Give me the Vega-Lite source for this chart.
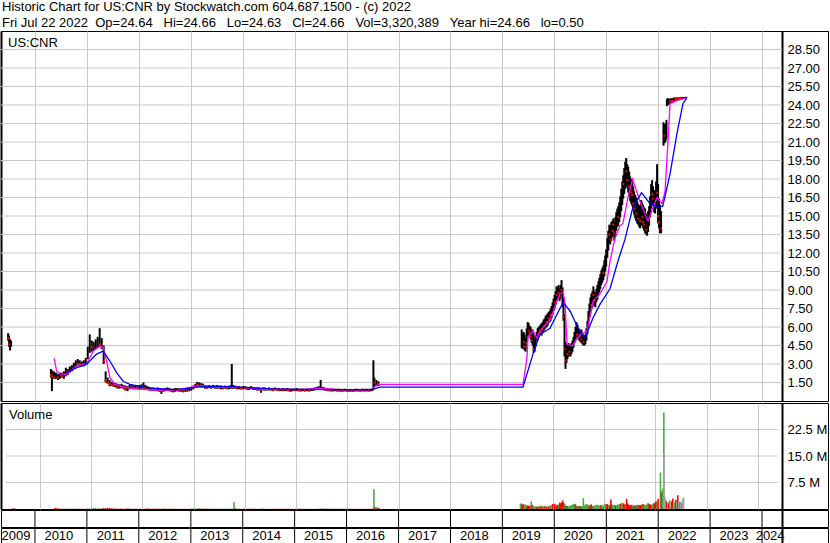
{
  "$schema": "https://vega.github.io/schema/vega-lite/v6.json",
  "padding": 0,
  "background": "white",
  "config": {
    "font": "Liberation Sans",
    "view": {"stroke": "black", "strokeWidth": 1},
    "axis": {"labelFont": "Liberation Sans", "labelFontSize": 13, "labelColor": "black", "title": null, "labelOverlap": false},
    "title": {"font": "Liberation Sans", "fontSize": 13, "fontWeight": "normal", "color": "black", "anchor": "start"},
    "text": {"font": "Liberation Sans"}
  },
  "title": {
    "text": ["Historic Chart for US:CNR by Stockwatch.com 604.687.1500 - (c) 2022", "Fri Jul 22 2022 \u00a0Op=24.64 \u00a0\u00a0Hi=24.66 \u00a0\u00a0Lo=24.63 \u00a0\u00a0Cl=24.66 \u00a0\u00a0Vol=3,320,389 \u00a0\u00a0Year hi=24.66 \u00a0\u00a0lo=0.50"],
    "lineHeight": 16, "offset": 1, "dx": 1, "frame": "group"
  },
  "datasets": {
    "pg": [{"v":1.5},{"v":3},{"v":4.5},{"v":6},{"v":7.5},{"v":9},{"v":10.5},{"v":12},{"v":13.5},{"v":15},{"v":16.5},{"v":18},{"v":19.5},{"v":21},{"v":22.5},{"v":24},{"v":25.5},{"v":27},{"v":28.5}],
    "vg": [{"v":7.5},{"v":15},{"v":22.5}],
    "yrs": [
      {"y":"2009","s":"2009-01-01","m":"2009-09-03"},{"y":"2010","s":"2010-01-01","m":"2010-07-02"},{"y":"2011","s":"2011-01-01","m":"2011-07-02"},{"y":"2012","s":"2012-01-01","m":"2012-07-02"},
      {"y":"2013","s":"2013-01-01","m":"2013-07-02"},{"y":"2014","s":"2014-01-01","m":"2014-07-02"},{"y":"2015","s":"2015-01-01","m":"2015-07-02"},{"y":"2016","s":"2016-01-01","m":"2016-07-02"},
      {"y":"2017","s":"2017-01-01","m":"2017-07-02"},{"y":"2018","s":"2018-01-01","m":"2018-07-02"},{"y":"2019","s":"2019-01-01","m":"2019-07-02"},{"y":"2020","s":"2020-01-01","m":"2020-07-02"},
      {"y":"2021","s":"2021-01-01","m":"2021-07-02"},{"y":"2022","s":"2022-01-01","m":"2022-07-02"},{"y":"2023","s":"2023-01-01","m":"2023-07-02"},{"y":"2024","s":"2024-01-01","m":"2024-03-12"}
    ],
    "ma": [
      {"d":"2010-05-16","k":"m","p":3.46},{"d":"2010-06-02","k":"m","p":2.43},{"d":"2010-06-25","k":"m","p":2.2},{"d":"2010-08-11","k":"m","p":2.16},{"d":"2010-10-21","k":"m","p":2.84},{"d":"2010-12-30","k":"m","p":2.98},
      {"d":"2011-02-15","k":"m","p":4.05},{"d":"2011-04-03","k":"m","p":4.46},{"d":"2011-04-26","k":"m","p":4.32},{"d":"2011-05-20","k":"m","p":3.24},{"d":"2011-06-12","k":"m","p":1.89},{"d":"2011-07-17","k":"m","p":1.35},
      {"d":"2011-10-07","k":"m","p":1.08},{"d":"2012-01-09","k":"m","p":0.95},{"d":"2012-05-29","k":"m","p":0.88},{"d":"2012-10-17","k":"m","p":0.9},{"d":"2013-01-30","k":"m","p":1.2},{"d":"2013-04-11","k":"m","p":1.25},
      {"d":"2013-06-20","k":"m","p":1.12},{"d":"2013-11-07","k":"m","p":1.12},{"d":"2014-02-21","k":"m","p":1.05},{"d":"2014-05-16","k":"m","p":0.95},{"d":"2014-09-20","k":"m","p":0.95},{"d":"2015-02-07","k":"m","p":0.92},
      {"d":"2015-06-27","k":"m","p":1.05},{"d":"2015-11-15","k":"m","p":0.92},{"d":"2016-04-05","k":"m","p":0.9},{"d":"2016-06-28","k":"m","p":0.95},{"d":"2016-08-09","k":"m","p":1.35},{"d":"2016-08-23","k":"m","p":1.35},
      {"d":"2019-05-26","k":"m","p":1.35},{"d":"2019-06-23","k":"m","p":3.5},{"d":"2019-06-30","k":"m","p":5.1},{"d":"2019-08-04","k":"m","p":5.7},{"d":"2019-09-01","k":"m","p":5.1},{"d":"2019-09-22","k":"m","p":5.7},
      {"d":"2019-12-02","k":"m","p":6.6},{"d":"2020-02-10","k":"m","p":8.7},{"d":"2020-03-03","k":"m","p":8.8},{"d":"2020-03-17","k":"m","p":7.85},{"d":"2020-03-31","k":"m","p":4.6},{"d":"2020-05-05","k":"m","p":4.46},
      {"d":"2020-07-01","k":"m","p":5.4},{"d":"2020-08-19","k":"m","p":5.7},{"d":"2020-09-30","k":"m","p":8.1},{"d":"2020-11-18","k":"m","p":8.7},{"d":"2021-01-06","k":"m","p":9.7},{"d":"2021-01-27","k":"m","p":11.35},
      {"d":"2021-03-03","k":"m","p":13.2},{"d":"2021-04-07","k":"m","p":14.2},{"d":"2021-04-28","k":"m","p":14.4},{"d":"2021-06-02","k":"m","p":16.5},{"d":"2021-07-05","k":"m","p":18.0},{"d":"2021-08-25","k":"m","p":16.2},
      {"d":"2021-10-21","k":"m","p":14.6},{"d":"2021-12-23","k":"m","p":16.5},{"d":"2022-01-27","k":"m","p":16.0},{"d":"2022-02-18","k":"m","p":17.0},{"d":"2022-03-11","k":"m","p":21.1},{"d":"2022-03-25","k":"m","p":24.1},
      {"d":"2022-05-20","k":"m","p":24.4},{"d":"2022-07-22","k":"m","p":24.6},
      {"d":"2010-08-11","k":"b","p":2.3},{"d":"2010-10-21","k":"b","p":2.7},{"d":"2010-12-30","k":"b","p":2.97},{"d":"2011-03-10","k":"b","p":3.8},{"d":"2011-04-26","k":"b","p":4.05},{"d":"2011-06-12","k":"b","p":3.24},
      {"d":"2011-07-29","k":"b","p":2.3},{"d":"2011-09-13","k":"b","p":1.6},{"d":"2011-10-30","k":"b","p":1.35},{"d":"2012-03-19","k":"b","p":1.05},{"d":"2012-09-11","k":"b","p":0.92},{"d":"2013-03-06","k":"b","p":1.15},
      {"d":"2013-07-25","k":"b","p":1.18},{"d":"2014-01-16","k":"b","p":1.1},{"d":"2014-07-11","k":"b","p":0.98},{"d":"2015-02-07","k":"b","p":0.95},{"d":"2015-11-15","k":"b","p":0.93},{"d":"2016-06-28","k":"b","p":0.93},
      {"d":"2016-08-23","k":"b","p":1.13},{"d":"2019-05-26","k":"b","p":1.13},{"d":"2019-08-04","k":"b","p":3.8},{"d":"2019-09-22","k":"b","p":5.4},{"d":"2019-12-02","k":"b","p":5.9},{"d":"2020-02-10","k":"b","p":7.5},
      {"d":"2020-03-03","k":"b","p":8.0},{"d":"2020-04-21","k":"b","p":7.3},{"d":"2020-06-09","k":"b","p":6.1},{"d":"2020-07-14","k":"b","p":5.4},{"d":"2020-08-04","k":"b","p":5.1},{"d":"2020-09-30","k":"b","p":6.75},
      {"d":"2020-11-18","k":"b","p":7.85},{"d":"2021-01-27","k":"b","p":9.1},{"d":"2021-03-24","k":"b","p":11.35},{"d":"2021-05-12","k":"b","p":13.1},{"d":"2021-07-07","k":"b","p":15.7},{"d":"2021-09-06","k":"b","p":16.9},
      {"d":"2021-11-04","k":"b","p":16.0},{"d":"2021-12-23","k":"b","p":15.7},{"d":"2022-02-02","k":"b","p":15.8},{"d":"2022-03-25","k":"b","p":18.4},{"d":"2022-05-13","k":"b","p":21.7},{"d":"2022-06-24","k":"b","p":24.1},
      {"d":"2022-07-22","k":"b","p":24.6}
    ],
    "px": [
      {"d":"2009-06-26","h":5.5,"l":4.9,"c":5.1,"v":0.2,"s":"d"},{"d":"2009-07-03","h":5.3,"l":4.4,"c":4.6,"v":0.15,"s":"d"},{"d":"2009-07-10","h":5.0,"l":4.1,"c":4.5,"v":0.1,"s":"u"},{"d":"2009-07-17","h":4.9,"l":4.4,"c":4.7,"v":0.1,"s":"u"},
      {"d":"2010-04-23","h":2.6,"l":1.9,"c":2.1,"v":0.3,"s":"d"},{"d":"2010-04-30","h":2.5,"l":0.8,"c":2.0,"v":0.25,"s":"d"},{"d":"2010-05-14","h":2.4,"l":1.8,"c":1.9,"v":0.15,"s":"d"},{"d":"2010-05-28","h":2.3,"l":1.8,"c":2.0,"v":0.1,"s":"u"},
      {"d":"2010-06-11","h":2.2,"l":1.7,"c":1.9,"v":0.1,"s":"d"},{"d":"2010-06-25","h":2.3,"l":1.8,"c":2.1,"v":0.12,"s":"u"},{"d":"2010-07-09","h":2.3,"l":1.9,"c":2.0,"v":0.1,"s":"d"},{"d":"2010-07-23","h":2.4,"l":1.8,"c":2.2,"v":0.1,"s":"u"},
      {"d":"2010-08-06","h":2.7,"l":2.0,"c":2.5,"v":0.15,"s":"u"},{"d":"2010-08-20","h":2.6,"l":2.1,"c":2.4,"v":0.1,"s":"d"},{"d":"2010-09-03","h":2.8,"l":2.3,"c":2.6,"v":0.12,"s":"u"},{"d":"2010-09-17","h":2.9,"l":2.4,"c":2.7,"v":0.1,"s":"u"},
      {"d":"2010-10-01","h":3.1,"l":2.6,"c":2.9,"v":0.15,"s":"u"},{"d":"2010-10-15","h":3.3,"l":2.8,"c":3.1,"v":0.12,"s":"u"},{"d":"2010-10-29","h":3.4,"l":2.9,"c":3.0,"v":0.1,"s":"d"},{"d":"2010-11-12","h":3.3,"l":2.8,"c":3.0,"v":0.1,"s":"d"},
      {"d":"2010-11-26","h":3.2,"l":2.8,"c":3.1,"v":0.08,"s":"u"},{"d":"2010-12-10","h":3.3,"l":2.8,"c":3.0,"v":0.1,"s":"d"},{"d":"2010-12-24","h":3.5,"l":3.0,"c":3.3,"v":0.12,"s":"u"},
      {"d":"2011-01-07","h":4.4,"l":3.4,"c":4.1,"v":0.3,"s":"u"},{"d":"2011-01-21","h":5.4,"l":3.9,"c":4.5,"v":0.35,"s":"u"},{"d":"2011-02-04","h":4.9,"l":4.0,"c":4.4,"v":0.2,"s":"d"},{"d":"2011-02-18","h":4.8,"l":4.1,"c":4.6,"v":0.15,"s":"u"},
      {"d":"2011-03-04","h":5.0,"l":4.2,"c":4.8,"v":0.18,"s":"u"},{"d":"2011-03-18","h":5.2,"l":4.3,"c":4.9,"v":0.2,"s":"u"},{"d":"2011-04-01","h":5.9,"l":4.4,"c":4.6,"v":0.3,"s":"d"},{"d":"2011-04-15","h":5.1,"l":4.2,"c":4.4,"v":0.2,"s":"d"},
      {"d":"2011-04-29","h":4.5,"l":3.0,"c":3.2,"v":0.3,"s":"d"},{"d":"2011-05-13","h":2.4,"l":1.5,"c":1.7,"v":0.35,"s":"d"},{"d":"2011-05-27","h":1.9,"l":1.4,"c":1.5,"v":0.2,"s":"d"},{"d":"2011-06-10","h":1.7,"l":1.2,"c":1.4,"v":0.15,"s":"d"},
      {"d":"2011-06-24","h":1.55,"l":1.2,"c":1.3,"v":0.12,"s":"d"},{"d":"2011-07-08","h":1.5,"l":1.15,"c":1.25,"v":0.1,"s":"d"},{"d":"2011-07-22","h":1.45,"l":1.1,"c":1.3,"v":0.1,"s":"u"},{"d":"2011-08-05","h":1.4,"l":1.0,"c":1.1,"v":0.15,"s":"d"},
      {"d":"2011-08-19","h":1.35,"l":1.0,"c":1.2,"v":0.1,"s":"u"},{"d":"2011-09-02","h":1.4,"l":1.05,"c":1.15,"v":0.1,"s":"d"},{"d":"2011-09-16","h":1.3,"l":0.95,"c":1.05,"v":0.12,"s":"d"},{"d":"2011-09-30","h":1.25,"l":0.85,"c":0.95,"v":0.15,"s":"d"},
      {"d":"2011-10-14","h":1.2,"l":0.8,"c":1.0,"v":0.1,"s":"u"},{"d":"2011-10-28","h":1.3,"l":0.95,"c":1.15,"v":0.1,"s":"u"},{"d":"2011-11-11","h":1.35,"l":1.0,"c":1.1,"v":0.08,"s":"d"},{"d":"2011-11-25","h":1.25,"l":0.95,"c":1.05,"v":0.08,"s":"d"},
      {"d":"2011-12-09","h":1.3,"l":1.0,"c":1.15,"v":0.1,"s":"u"},{"d":"2011-12-23","h":1.25,"l":0.95,"c":1.05,"v":0.08,"s":"d"},{"d":"2012-01-06","h":1.3,"l":0.95,"c":1.1,"v":0.1,"s":"u"},{"d":"2012-01-20","h":1.35,"l":1.0,"c":1.2,"v":0.12,"s":"u"},
      {"d":"2012-02-03","h":1.5,"l":1.0,"c":1.1,"v":0.15,"s":"d"},{"d":"2012-02-17","h":1.3,"l":0.95,"c":1.0,"v":0.1,"s":"d"},{"d":"2012-03-02","h":1.2,"l":0.9,"c":1.0,"v":0.08,"s":"u"},{"d":"2012-03-16","h":1.15,"l":0.85,"c":0.95,"v":0.1,"s":"d"},
      {"d":"2012-03-30","h":1.1,"l":0.8,"c":0.9,"v":0.1,"s":"d"},{"d":"2012-04-13","h":1.1,"l":0.85,"c":0.95,"v":0.08,"s":"u"},{"d":"2012-04-27","h":1.05,"l":0.8,"c":0.9,"v":0.1,"s":"d"},{"d":"2012-05-11","h":1.1,"l":0.8,"c":0.95,"v":0.08,"s":"u"},
      {"d":"2012-05-25","h":1.0,"l":0.75,"c":0.85,"v":0.1,"s":"d"},{"d":"2012-06-08","h":1.0,"l":0.58,"c":0.8,"v":0.15,"s":"d"},{"d":"2012-06-22","h":1.0,"l":0.75,"c":0.9,"v":0.1,"s":"u"},{"d":"2012-07-06","h":1.05,"l":0.8,"c":0.9,"v":0.08,"s":"u"},
      {"d":"2012-07-20","h":1.1,"l":0.85,"c":0.95,"v":0.1,"s":"u"},{"d":"2012-08-03","h":1.05,"l":0.8,"c":0.9,"v":0.08,"s":"d"},{"d":"2012-08-17","h":1.0,"l":0.75,"c":0.85,"v":0.1,"s":"d"},{"d":"2012-08-31","h":1.0,"l":0.7,"c":0.85,"v":0.08,"s":"u"},
      {"d":"2012-09-14","h":1.05,"l":0.75,"c":0.9,"v":0.1,"s":"u"},{"d":"2012-09-28","h":1.05,"l":0.8,"c":0.9,"v":0.08,"s":"d"},{"d":"2012-10-12","h":1.0,"l":0.75,"c":0.85,"v":0.1,"s":"d"},{"d":"2012-10-26","h":1.0,"l":0.75,"c":0.9,"v":0.08,"s":"u"},
      {"d":"2012-11-09","h":0.95,"l":0.7,"c":0.85,"v":0.1,"s":"d"},{"d":"2012-11-23","h":1.0,"l":0.75,"c":0.9,"v":0.08,"s":"u"},{"d":"2012-12-07","h":1.0,"l":0.75,"c":0.85,"v":0.1,"s":"d"},{"d":"2012-12-21","h":1.05,"l":0.8,"c":0.95,"v":0.1,"s":"u"},
      {"d":"2013-01-04","h":1.1,"l":0.85,"c":1.0,"v":0.12,"s":"u"},{"d":"2013-01-18","h":1.25,"l":0.95,"c":1.15,"v":0.15,"s":"u"},{"d":"2013-02-01","h":1.4,"l":1.05,"c":1.3,"v":0.2,"s":"u"},{"d":"2013-02-15","h":1.55,"l":1.15,"c":1.3,"v":0.2,"s":"d"},
      {"d":"2013-03-01","h":1.5,"l":1.15,"c":1.35,"v":0.15,"s":"u"},{"d":"2013-03-15","h":1.45,"l":1.1,"c":1.25,"v":0.12,"s":"d"},{"d":"2013-03-29","h":1.4,"l":1.1,"c":1.2,"v":0.1,"s":"d"},{"d":"2013-04-12","h":1.3,"l":1.0,"c":1.15,"v":0.1,"s":"d"},
      {"d":"2013-04-26","h":1.25,"l":1.0,"c":1.1,"v":0.08,"s":"d"},{"d":"2013-05-10","h":1.3,"l":1.05,"c":1.2,"v":0.1,"s":"u"},{"d":"2013-05-24","h":1.25,"l":1.0,"c":1.1,"v":0.08,"s":"d"},{"d":"2013-06-07","h":1.3,"l":1.05,"c":1.15,"v":0.1,"s":"u"},
      {"d":"2013-06-21","h":1.25,"l":1.0,"c":1.1,"v":0.08,"s":"d"},{"d":"2013-07-05","h":1.3,"l":1.0,"c":1.15,"v":0.1,"s":"u"},{"d":"2013-07-19","h":1.25,"l":1.0,"c":1.1,"v":0.08,"s":"d"},{"d":"2013-08-02","h":1.25,"l":0.95,"c":1.1,"v":0.1,"s":"u"},
      {"d":"2013-08-16","h":1.2,"l":0.95,"c":1.05,"v":0.08,"s":"d"},{"d":"2013-08-30","h":1.25,"l":1.0,"c":1.1,"v":0.1,"s":"u"},{"d":"2013-09-13","h":1.2,"l":0.95,"c":1.05,"v":0.08,"s":"d"},{"d":"2013-09-27","h":1.25,"l":0.95,"c":1.1,"v":0.1,"s":"u"},
      {"d":"2013-10-11","h":1.3,"l":1.0,"c":1.15,"v":0.12,"s":"u"},{"d":"2013-10-16","h":3.0,"l":1.05,"c":1.2,"v":2.0,"s":"u"},{"d":"2013-10-25","h":1.3,"l":1.0,"c":1.1,"v":0.2,"s":"d"},{"d":"2013-11-08","h":1.25,"l":1.0,"c":1.1,"v":0.1,"s":"u"},
      {"d":"2013-11-22","h":1.2,"l":0.95,"c":1.05,"v":0.08,"s":"d"},{"d":"2013-12-06","h":1.2,"l":0.95,"c":1.05,"v":0.08,"s":"u"},{"d":"2013-12-20","h":1.15,"l":0.95,"c":1.0,"v":0.08,"s":"d"},{"d":"2014-01-03","h":1.2,"l":0.95,"c":1.05,"v":0.1,"s":"u"},
      {"d":"2014-01-17","h":1.2,"l":0.95,"c":1.05,"v":0.08,"s":"d"},{"d":"2014-01-31","h":1.15,"l":0.9,"c":1.0,"v":0.08,"s":"d"},{"d":"2014-02-14","h":1.15,"l":0.9,"c":1.05,"v":0.1,"s":"u"},{"d":"2014-02-28","h":1.2,"l":0.95,"c":1.05,"v":0.15,"s":"d"},
      {"d":"2014-03-14","h":1.15,"l":0.9,"c":1.0,"v":0.08,"s":"d"},{"d":"2014-03-28","h":1.1,"l":0.9,"c":1.0,"v":0.08,"s":"u"},{"d":"2014-04-11","h":1.1,"l":0.85,"c":0.95,"v":0.08,"s":"d"},{"d":"2014-04-25","h":1.1,"l":0.85,"c":1.0,"v":0.08,"s":"u"},
      {"d":"2014-05-09","h":1.05,"l":0.67,"c":0.9,"v":0.12,"s":"d"},{"d":"2014-05-23","h":1.1,"l":0.85,"c":0.95,"v":0.08,"s":"u"},{"d":"2014-06-06","h":1.1,"l":0.85,"c":0.95,"v":0.08,"s":"d"},{"d":"2014-06-20","h":1.05,"l":0.85,"c":0.95,"v":0.08,"s":"u"},
      {"d":"2014-07-04","h":1.1,"l":0.85,"c":1.0,"v":0.08,"s":"u"},{"d":"2014-07-18","h":1.05,"l":0.85,"c":0.95,"v":0.08,"s":"d"},{"d":"2014-08-01","h":1.05,"l":0.8,"c":0.9,"v":0.08,"s":"d"},{"d":"2014-08-15","h":1.1,"l":0.85,"c":0.95,"v":0.08,"s":"u"},
      {"d":"2014-08-29","h":1.05,"l":0.85,"c":0.95,"v":0.08,"s":"d"},{"d":"2014-09-12","h":1.05,"l":0.8,"c":0.9,"v":0.08,"s":"d"},{"d":"2014-09-26","h":1.0,"l":0.8,"c":0.9,"v":0.08,"s":"u"},{"d":"2014-10-10","h":1.05,"l":0.8,"c":0.9,"v":0.08,"s":"d"},
      {"d":"2014-10-24","h":1.0,"l":0.8,"c":0.9,"v":0.08,"s":"u"},{"d":"2014-11-07","h":1.05,"l":0.8,"c":0.9,"v":0.08,"s":"d"},{"d":"2014-11-21","h":1.0,"l":0.8,"c":0.85,"v":0.08,"s":"d"},{"d":"2014-12-05","h":1.0,"l":0.75,"c":0.85,"v":0.08,"s":"u"},
      {"d":"2014-12-19","h":1.0,"l":0.8,"c":0.9,"v":0.08,"s":"u"},{"d":"2015-01-02","h":1.0,"l":0.8,"c":0.9,"v":0.08,"s":"d"},{"d":"2015-01-16","h":1.05,"l":0.8,"c":0.9,"v":0.08,"s":"u"},{"d":"2015-01-30","h":1.0,"l":0.8,"c":0.85,"v":0.08,"s":"d"},
      {"d":"2015-02-13","h":1.0,"l":0.78,"c":0.85,"v":0.08,"s":"d"},{"d":"2015-02-27","h":1.0,"l":0.8,"c":0.9,"v":0.08,"s":"u"},{"d":"2015-03-13","h":0.98,"l":0.78,"c":0.85,"v":0.08,"s":"d"},{"d":"2015-03-27","h":1.0,"l":0.8,"c":0.9,"v":0.08,"s":"u"},
      {"d":"2015-04-10","h":1.0,"l":0.78,"c":0.85,"v":0.08,"s":"d"},{"d":"2015-04-24","h":1.02,"l":0.8,"c":0.9,"v":0.08,"s":"u"},{"d":"2015-05-08","h":1.05,"l":0.82,"c":0.95,"v":0.08,"s":"u"},{"d":"2015-05-22","h":1.1,"l":0.85,"c":1.0,"v":0.1,"s":"u"},
      {"d":"2015-06-05","h":1.15,"l":0.9,"c":1.0,"v":0.1,"s":"d"},{"d":"2015-06-19","h":1.2,"l":0.9,"c":1.05,"v":0.12,"s":"u"},{"d":"2015-07-03","h":1.7,"l":0.95,"c":1.1,"v":0.25,"s":"u"},{"d":"2015-07-17","h":1.15,"l":0.9,"c":1.0,"v":0.1,"s":"d"},
      {"d":"2015-07-31","h":1.1,"l":0.85,"c":0.95,"v":0.08,"s":"d"},{"d":"2015-08-14","h":1.05,"l":0.82,"c":0.9,"v":0.08,"s":"d"},{"d":"2015-08-28","h":1.0,"l":0.8,"c":0.88,"v":0.08,"s":"d"},{"d":"2015-09-11","h":1.0,"l":0.78,"c":0.88,"v":0.08,"s":"u"},
      {"d":"2015-09-25","h":0.98,"l":0.78,"c":0.85,"v":0.08,"s":"d"},{"d":"2015-10-09","h":1.0,"l":0.8,"c":0.88,"v":0.08,"s":"u"},{"d":"2015-10-23","h":0.98,"l":0.78,"c":0.85,"v":0.08,"s":"d"},{"d":"2015-11-06","h":1.0,"l":0.78,"c":0.85,"v":0.08,"s":"d"},
      {"d":"2015-11-20","h":0.98,"l":0.76,"c":0.85,"v":0.08,"s":"u"},{"d":"2015-12-04","h":0.98,"l":0.76,"c":0.83,"v":0.08,"s":"d"},{"d":"2015-12-18","h":1.0,"l":0.78,"c":0.86,"v":0.08,"s":"u"},{"d":"2016-01-01","h":0.98,"l":0.76,"c":0.85,"v":0.08,"s":"d"},
      {"d":"2016-01-15","h":0.96,"l":0.74,"c":0.82,"v":0.08,"s":"d"},{"d":"2016-01-29","h":0.98,"l":0.76,"c":0.85,"v":0.08,"s":"u"},{"d":"2016-02-12","h":0.96,"l":0.75,"c":0.83,"v":0.08,"s":"d"},{"d":"2016-02-26","h":0.98,"l":0.76,"c":0.86,"v":0.08,"s":"u"},
      {"d":"2016-03-11","h":1.0,"l":0.78,"c":0.88,"v":0.08,"s":"u"},{"d":"2016-03-25","h":0.98,"l":0.77,"c":0.85,"v":0.08,"s":"d"},{"d":"2016-04-08","h":0.98,"l":0.76,"c":0.85,"v":0.08,"s":"d"},{"d":"2016-04-22","h":1.0,"l":0.78,"c":0.88,"v":0.08,"s":"u"},
      {"d":"2016-05-06","h":0.98,"l":0.77,"c":0.86,"v":0.08,"s":"d"},{"d":"2016-05-20","h":1.0,"l":0.78,"c":0.88,"v":0.08,"s":"u"},{"d":"2016-06-03","h":0.98,"l":0.77,"c":0.85,"v":0.08,"s":"d"},{"d":"2016-06-17","h":1.0,"l":0.78,"c":0.88,"v":0.1,"s":"u"},
      {"d":"2016-07-01","h":1.05,"l":0.8,"c":0.9,"v":0.15,"s":"u"},{"d":"2016-07-08","h":3.3,"l":0.9,"c":1.4,"v":5.6,"s":"u"},{"d":"2016-07-15","h":1.9,"l":1.2,"c":1.5,"v":0.6,"s":"d"},{"d":"2016-07-29","h":1.7,"l":1.2,"c":1.4,"v":0.6,"s":"u"},
      {"d":"2016-08-12","h":1.6,"l":1.2,"c":1.35,"v":0.3,"s":"d"},
      {"d":"2019-05-17","h":5.8,"l":4.3,"c":4.6,"v":1.5,"s":"u"},{"d":"2019-05-24","h":5.5,"l":4.2,"c":5.0,"v":1.6,"s":"u"},{"d":"2019-05-31","h":5.6,"l":4.6,"c":4.8,"v":1.2,"s":"d"},{"d":"2019-06-07","h":5.4,"l":4.1,"c":4.4,"v":1.4,"s":"d"},
      {"d":"2019-06-14","h":5.1,"l":4.0,"c":4.9,"v":1.0,"s":"u"},{"d":"2019-06-21","h":5.9,"l":4.8,"c":5.6,"v":1.3,"s":"u"},{"d":"2019-06-28","h":6.4,"l":5.3,"c":5.8,"v":1.1,"s":"u"},{"d":"2019-07-05","h":6.3,"l":5.4,"c":5.7,"v":0.9,"s":"d"},
      {"d":"2019-07-12","h":6.1,"l":5.2,"c":5.5,"v":1.0,"s":"d"},{"d":"2019-07-19","h":6.0,"l":5.0,"c":5.2,"v":0.8,"s":"d"},{"d":"2019-07-26","h":5.7,"l":4.7,"c":4.9,"v":0.9,"s":"d"},{"d":"2019-08-02","h":5.8,"l":4.5,"c":5.4,"v":2.2,"s":"u"},
      {"d":"2019-08-09","h":5.4,"l":3.9,"c":4.2,"v":1.2,"s":"d"},{"d":"2019-08-16","h":5.0,"l":4.0,"c":4.7,"v":0.9,"s":"u"},{"d":"2019-08-23","h":5.3,"l":4.4,"c":5.1,"v":0.7,"s":"u"},{"d":"2019-08-30","h":5.6,"l":4.9,"c":5.3,"v":0.8,"s":"u"},
      {"d":"2019-09-06","h":5.9,"l":5.0,"c":5.6,"v":0.6,"s":"u"},{"d":"2019-09-13","h":6.0,"l":5.2,"c":5.4,"v":0.7,"s":"d"},{"d":"2019-09-20","h":6.1,"l":5.3,"c":5.9,"v":0.8,"s":"u"},{"d":"2019-09-27","h":6.2,"l":5.4,"c":5.6,"v":0.6,"s":"d"},
      {"d":"2019-10-04","h":6.3,"l":5.3,"c":6.0,"v":0.9,"s":"u"},{"d":"2019-10-11","h":6.4,"l":5.5,"c":5.8,"v":0.7,"s":"d"},{"d":"2019-10-18","h":6.6,"l":5.6,"c":6.3,"v":1.0,"s":"u"},{"d":"2019-10-25","h":6.7,"l":5.8,"c":6.1,"v":0.6,"s":"d"},
      {"d":"2019-11-01","h":6.9,"l":5.9,"c":6.6,"v":0.8,"s":"u"},{"d":"2019-11-08","h":7.0,"l":6.0,"c":6.4,"v":0.7,"s":"d"},{"d":"2019-11-15","h":7.1,"l":6.1,"c":6.9,"v":0.9,"s":"u"},{"d":"2019-11-22","h":7.2,"l":6.3,"c":6.7,"v":0.6,"s":"d"},
      {"d":"2019-11-29","h":7.3,"l":6.4,"c":7.1,"v":0.7,"s":"u"},{"d":"2019-12-06","h":7.5,"l":6.5,"c":7.0,"v":0.8,"s":"d"},{"d":"2019-12-13","h":7.7,"l":6.7,"c":7.5,"v":1.0,"s":"u"},{"d":"2019-12-20","h":8.0,"l":7.0,"c":7.6,"v":0.9,"s":"u"},
      {"d":"2019-12-27","h":8.3,"l":7.3,"c":8.1,"v":1.1,"s":"u"},{"d":"2020-01-03","h":8.6,"l":7.5,"c":8.0,"v":1.4,"s":"d"},{"d":"2020-01-10","h":8.9,"l":7.8,"c":8.7,"v":1.2,"s":"u"},{"d":"2020-01-17","h":9.3,"l":8.2,"c":8.6,"v":1.5,"s":"d"},
      {"d":"2020-01-24","h":9.2,"l":8.3,"c":9.0,"v":1.1,"s":"u"},{"d":"2020-01-31","h":9.4,"l":8.4,"c":8.8,"v":1.0,"s":"d"},{"d":"2020-02-07","h":9.1,"l":8.1,"c":8.5,"v":1.2,"s":"d"},{"d":"2020-02-14","h":9.4,"l":8.3,"c":9.1,"v":1.3,"s":"u"},
      {"d":"2020-02-21","h":9.8,"l":8.6,"c":9.0,"v":1.8,"s":"d"},{"d":"2020-02-28","h":9.2,"l":7.6,"c":7.9,"v":1.6,"s":"d"},{"d":"2020-03-06","h":8.4,"l":6.5,"c":6.8,"v":1.9,"s":"d"},{"d":"2020-03-13","h":7.0,"l":3.6,"c":4.2,"v":2.4,"s":"d"},
      {"d":"2020-03-20","h":4.8,"l":2.6,"c":3.3,"v":1.8,"s":"d"},{"d":"2020-03-27","h":4.6,"l":3.1,"c":4.1,"v":1.4,"s":"u"},{"d":"2020-04-03","h":4.5,"l":3.4,"c":3.8,"v":1.0,"s":"d"},{"d":"2020-04-10","h":4.7,"l":3.6,"c":4.4,"v":0.9,"s":"u"},
      {"d":"2020-04-17","h":4.6,"l":3.7,"c":4.0,"v":0.8,"s":"d"},{"d":"2020-04-24","h":4.5,"l":3.6,"c":4.2,"v":0.7,"s":"u"},{"d":"2020-05-01","h":4.7,"l":3.8,"c":4.4,"v":0.9,"s":"u"},{"d":"2020-05-08","h":4.9,"l":4.0,"c":4.6,"v":1.0,"s":"u"},
      {"d":"2020-05-15","h":5.2,"l":4.3,"c":5.0,"v":1.1,"s":"u"},{"d":"2020-05-22","h":5.6,"l":4.7,"c":5.4,"v":1.2,"s":"u"},{"d":"2020-05-29","h":6.0,"l":5.0,"c":5.7,"v":1.4,"s":"u"},{"d":"2020-06-05","h":6.4,"l":5.4,"c":5.9,"v":1.5,"s":"u"},
      {"d":"2020-06-12","h":6.2,"l":5.1,"c":5.4,"v":1.3,"s":"d"},{"d":"2020-06-19","h":5.9,"l":5.0,"c":5.6,"v":0.9,"s":"u"},{"d":"2020-06-26","h":5.8,"l":4.9,"c":5.2,"v":0.8,"s":"d"},{"d":"2020-07-03","h":5.7,"l":4.8,"c":5.3,"v":0.7,"s":"u"},
      {"d":"2020-07-10","h":5.8,"l":4.7,"c":5.0,"v":0.9,"s":"d"},{"d":"2020-07-17","h":5.5,"l":4.6,"c":5.2,"v":0.8,"s":"u"},{"d":"2020-07-24","h":5.4,"l":4.5,"c":4.8,"v":0.7,"s":"d"},{"d":"2020-07-31","h":5.3,"l":4.5,"c":5.0,"v":0.8,"s":"u"},
      {"d":"2020-08-07","h":5.4,"l":4.6,"c":5.2,"v":3.1,"s":"u"},{"d":"2020-08-14","h":5.9,"l":4.9,"c":5.7,"v":1.0,"s":"u"},{"d":"2020-08-21","h":6.5,"l":5.4,"c":6.3,"v":1.2,"s":"u"},{"d":"2020-08-28","h":7.3,"l":5.9,"c":7.0,"v":1.4,"s":"u"},
      {"d":"2020-09-04","h":7.9,"l":6.8,"c":7.4,"v":1.3,"s":"u"},{"d":"2020-09-11","h":8.4,"l":7.1,"c":8.0,"v":1.1,"s":"u"},{"d":"2020-09-18","h":8.7,"l":7.4,"c":7.8,"v":1.0,"s":"d"},{"d":"2020-09-25","h":8.9,"l":7.6,"c":8.5,"v":1.2,"s":"u"},
      {"d":"2020-10-02","h":9.3,"l":8.0,"c":8.6,"v":1.3,"s":"d"},{"d":"2020-10-09","h":8.9,"l":7.7,"c":8.1,"v":0.9,"s":"d"},{"d":"2020-10-16","h":8.7,"l":7.6,"c":8.3,"v":0.8,"s":"u"},{"d":"2020-10-23","h":9.1,"l":8.0,"c":8.8,"v":1.0,"s":"u"},
      {"d":"2020-10-30","h":9.4,"l":8.2,"c":8.9,"v":0.9,"s":"u"},{"d":"2020-11-06","h":9.7,"l":8.5,"c":9.4,"v":1.1,"s":"u"},{"d":"2020-11-13","h":10.0,"l":8.8,"c":9.6,"v":1.2,"s":"u"},{"d":"2020-11-20","h":10.3,"l":9.1,"c":10.0,"v":1.0,"s":"u"},
      {"d":"2020-11-27","h":10.6,"l":9.4,"c":10.2,"v":0.9,"s":"u"},{"d":"2020-12-04","h":10.8,"l":9.6,"c":10.5,"v":1.1,"s":"u"},{"d":"2020-12-11","h":11.0,"l":9.8,"c":10.4,"v":1.0,"s":"d"},{"d":"2020-12-18","h":11.4,"l":10.1,"c":11.0,"v":1.2,"s":"u"},
      {"d":"2020-12-24","h":11.8,"l":10.5,"c":11.3,"v":0.8,"s":"u"},{"d":"2020-12-31","h":12.3,"l":10.9,"c":12.0,"v":1.0,"s":"u"},{"d":"2021-01-08","h":13.2,"l":11.6,"c":12.6,"v":1.5,"s":"u"},{"d":"2021-01-15","h":13.8,"l":12.2,"c":13.4,"v":1.3,"s":"u"},
      {"d":"2021-01-22","h":14.3,"l":12.8,"c":13.5,"v":1.4,"s":"d"},{"d":"2021-01-29","h":14.2,"l":12.7,"c":13.1,"v":1.2,"s":"d"},{"d":"2021-02-05","h":14.5,"l":13.0,"c":14.0,"v":1.1,"s":"u"},{"d":"2021-02-12","h":14.6,"l":13.3,"c":13.8,"v":1.0,"s":"d"},
      {"d":"2021-02-19","h":14.8,"l":13.5,"c":14.3,"v":2.7,"s":"d"},{"d":"2021-02-26","h":14.5,"l":13.0,"c":13.6,"v":1.3,"s":"d"},{"d":"2021-03-05","h":14.9,"l":13.4,"c":14.5,"v":1.1,"s":"u"},{"d":"2021-03-12","h":15.3,"l":13.8,"c":14.8,"v":1.0,"s":"u"},
      {"d":"2021-03-19","h":15.6,"l":14.1,"c":15.2,"v":1.2,"s":"u"},{"d":"2021-03-26","h":15.8,"l":14.2,"c":14.9,"v":1.0,"s":"d"},{"d":"2021-04-02","h":16.1,"l":14.5,"c":15.6,"v":1.1,"s":"u"},{"d":"2021-04-09","h":16.6,"l":14.9,"c":16.2,"v":1.3,"s":"u"},
      {"d":"2021-04-16","h":17.2,"l":15.4,"c":16.8,"v":1.2,"s":"u"},{"d":"2021-04-23","h":17.8,"l":15.9,"c":17.3,"v":1.4,"s":"u"},{"d":"2021-04-30","h":18.3,"l":16.4,"c":17.6,"v":1.5,"s":"d"},{"d":"2021-05-07","h":18.9,"l":16.8,"c":18.4,"v":1.6,"s":"u"},
      {"d":"2021-05-14","h":19.4,"l":17.2,"c":18.8,"v":1.8,"s":"u"},{"d":"2021-05-21","h":19.7,"l":17.5,"c":18.6,"v":1.5,"s":"d"},{"d":"2021-05-28","h":19.2,"l":17.3,"c":17.9,"v":1.3,"s":"d"},{"d":"2021-06-04","h":19.0,"l":16.9,"c":18.2,"v":1.4,"s":"u"},
      {"d":"2021-06-11","h":18.6,"l":16.6,"c":17.4,"v":2.9,"s":"d"},{"d":"2021-06-18","h":18.2,"l":16.2,"c":17.0,"v":1.6,"s":"d"},{"d":"2021-06-25","h":18.0,"l":16.0,"c":16.9,"v":1.2,"s":"d"},{"d":"2021-07-02","h":17.8,"l":15.8,"c":16.7,"v":1.1,"s":"d"},
      {"d":"2021-07-09","h":17.4,"l":15.5,"c":16.0,"v":1.0,"s":"d"},{"d":"2021-07-16","h":17.0,"l":15.1,"c":15.6,"v":1.2,"s":"d"},{"d":"2021-07-23","h":16.7,"l":14.8,"c":15.9,"v":1.0,"s":"u"},{"d":"2021-07-30","h":16.5,"l":14.6,"c":15.2,"v":0.9,"s":"d"},
      {"d":"2021-08-06","h":16.2,"l":14.4,"c":15.4,"v":1.1,"s":"u"},{"d":"2021-08-13","h":16.0,"l":14.3,"c":14.8,"v":1.0,"s":"d"},{"d":"2021-08-20","h":15.8,"l":14.1,"c":15.1,"v":0.9,"s":"u"},{"d":"2021-08-27","h":15.9,"l":14.0,"c":14.6,"v":1.2,"s":"d"},
      {"d":"2021-09-03","h":16.3,"l":14.3,"c":15.5,"v":1.0,"s":"u"},{"d":"2021-09-10","h":16.1,"l":14.2,"c":14.9,"v":1.1,"s":"d"},{"d":"2021-09-17","h":15.9,"l":14.0,"c":14.5,"v":1.0,"s":"d"},{"d":"2021-09-24","h":15.7,"l":13.8,"c":14.3,"v":1.2,"s":"d"},
      {"d":"2021-10-01","h":15.6,"l":13.6,"c":14.7,"v":1.3,"s":"u"},{"d":"2021-10-08","h":15.2,"l":13.5,"c":13.9,"v":1.4,"s":"d"},{"d":"2021-10-15","h":15.0,"l":13.4,"c":14.2,"v":1.0,"s":"u"},{"d":"2021-10-22","h":15.4,"l":13.7,"c":14.8,"v":1.2,"s":"u"},
      {"d":"2021-10-29","h":15.8,"l":14.2,"c":15.3,"v":1.1,"s":"u"},{"d":"2021-11-05","h":16.6,"l":14.9,"c":16.2,"v":1.5,"s":"u"},{"d":"2021-11-12","h":17.6,"l":15.6,"c":17.0,"v":1.7,"s":"u"},{"d":"2021-11-19","h":17.9,"l":16.1,"c":16.8,"v":1.4,"s":"d"},
      {"d":"2021-11-26","h":17.4,"l":15.8,"c":16.4,"v":1.2,"s":"d"},{"d":"2021-12-03","h":17.1,"l":15.3,"c":15.9,"v":1.3,"s":"d"},{"d":"2021-12-10","h":16.9,"l":15.2,"c":16.4,"v":1.1,"s":"u"},{"d":"2021-12-17","h":17.8,"l":15.6,"c":17.2,"v":1.4,"s":"u"},
      {"d":"2021-12-24","h":19.2,"l":16.3,"c":16.9,"v":1.6,"s":"d"},{"d":"2021-12-31","h":17.6,"l":14.4,"c":15.0,"v":1.8,"s":"d"},{"d":"2022-01-07","h":16.4,"l":14.0,"c":14.5,"v":2.2,"s":"d"},{"d":"2022-01-14","h":15.9,"l":13.6,"c":14.8,"v":1.9,"s":"u"},
      {"d":"2022-01-21","h":15.4,"l":13.6,"c":14.0,"v":2.9,"s":"d"},
      {"d":"2022-02-07","h":22.6,"l":20.7,"c":22.0,"v":10.3,"s":"u"},{"d":"2022-02-14","h":22.4,"l":20.9,"c":21.5,"v":4.7,"s":"d"},{"d":"2022-02-21","h":22.5,"l":21.0,"c":22.1,"v":5.5,"s":"u"},{"d":"2022-02-28","h":22.8,"l":21.2,"c":22.4,"v":6.0,"s":"u"},
      {"d":"2022-03-03","h":24.5,"l":23.9,"c":24.3,"v":27.3,"s":"u"},{"d":"2022-03-05","h":24.5,"l":24.0,"c":24.3,"v":15.8,"s":"n"},
      {"d":"2022-03-11","h":24.55,"l":24.0,"c":24.3,"v":3.5,"s":"n"},{"d":"2022-03-18","h":24.5,"l":24.1,"c":24.4,"v":2.4,"s":"u"},{"d":"2022-03-25","h":24.5,"l":24.15,"c":24.3,"v":1.9,"s":"d"},{"d":"2022-04-01","h":24.55,"l":24.2,"c":24.4,"v":2.1,"s":"n"},
      {"d":"2022-04-08","h":24.5,"l":24.2,"c":24.35,"v":1.6,"s":"d"},{"d":"2022-04-15","h":24.55,"l":24.25,"c":24.45,"v":2.5,"s":"u"},{"d":"2022-04-22","h":24.6,"l":24.3,"c":24.5,"v":1.8,"s":"n"},{"d":"2022-04-29","h":24.6,"l":24.3,"c":24.45,"v":2.2,"s":"d"},
      {"d":"2022-05-06","h":24.6,"l":24.35,"c":24.5,"v":3.0,"s":"d"},{"d":"2022-05-13","h":24.6,"l":24.35,"c":24.55,"v":2.0,"s":"n"},{"d":"2022-05-20","h":24.6,"l":24.4,"c":24.5,"v":1.7,"s":"u"},{"d":"2022-05-27","h":24.62,"l":24.4,"c":24.55,"v":2.6,"s":"d"},
      {"d":"2022-06-03","h":24.62,"l":24.42,"c":24.55,"v":1.8,"s":"n"},{"d":"2022-06-10","h":24.63,"l":24.45,"c":24.58,"v":3.9,"s":"d"},{"d":"2022-06-17","h":24.64,"l":24.45,"c":24.6,"v":2.3,"s":"n"},{"d":"2022-06-24","h":24.65,"l":24.5,"c":24.6,"v":1.9,"s":"u"},
      {"d":"2022-07-01","h":24.65,"l":24.52,"c":24.62,"v":2.1,"s":"n"},{"d":"2022-07-08","h":24.66,"l":24.55,"c":24.63,"v":1.8,"s":"u"},{"d":"2022-07-15","h":24.66,"l":24.58,"c":24.64,"v":2.8,"s":"n"},{"d":"2022-07-22","h":24.66,"l":24.63,"c":24.66,"v":3.32,"s":"n"}
    ]
  },
  "spacing": 2,
  "bounds": "flush",
  "resolve": {"scale": {"x": "independent", "y": "independent", "color": "independent"}},
  "vconcat": [
    {
      "width": 827,
      "height": 370,
      "title": {"text": "US:CNR", "anchor": "start", "frame": "group", "offset": -19, "dx": 7},
      "layer": [
        {
          "data": {"name": "pg"},
          "mark": {"type": "rule", "color": "#c8c8c8", "strokeWidth": 1},
          "encoding": {
            "x": {"datum": {"year": 2009, "month": 5, "date": 7}, "type": "temporal",
                  "scale": {"domain": [{"year": 2009, "month": 5, "date": 7}, {"year": 2025, "month": 4, "date": 9}]},
                  "axis": {"values": [{"year":2010},{"year":2011},{"year":2012},{"year":2013},{"year":2014},{"year":2015},{"year":2016},{"year":2017},{"year":2018},{"year":2019},{"year":2020},{"year":2021},{"year":2022},{"year":2023},{"year":2024}],
                           "tickCount": 40, "labels": false, "ticks": false, "domain": false, "grid": true, "gridColor": "#c8c8c8", "gridWidth": 1, "title": null}},
            "x2": {"datum": {"year": 2024, "month": 5, "date": 21}},
            "y": {"field": "v", "type": "quantitative", "scale": {"domain": [0, 30]},
                  "axis": {"orient": "left", "labels": false, "ticks": false, "grid": false, "domainColor": "black", "domainWidth": 2, "title": null}}
          }
        },
        {
          "data": {"name": "px"},
          "layer": [
            {
              "mark": {"type": "rule", "color": "black", "strokeWidth": 2},
              "encoding": {
                "x": {"field": "d", "type": "temporal"},
                "y": {"field": "l", "type": "quantitative", "scale": {"domain": [0, 30]},
                      "axis": {"orient": "right", "offset": -46, "values": [1.5,3,4.5,6,7.5,9,10.5,12,13.5,15,16.5,18,19.5,21,22.5,24,25.5,27,28.5],
                               "tickCount": 40, "format": ".2f", "labelPadding": 5, "ticks": false, "tickSize": 0, "grid": false, "labelBaseline": "middle",
                               "labelOverlap": false, "labelFlush": false, "domainColor": "black", "domainWidth": 2, "title": null}},
                "y2": {"field": "h"}
              }
            },
            {
              "transform": [{"filter": "datum.s === 'd'"}],
              "mark": {"type": "square", "color": "#ff0000", "size": 4, "opacity": 1},
              "encoding": {
                "x": {"field": "d", "type": "temporal"},
                "y": {"field": "c", "type": "quantitative"}
              }
            },
            {
              "data": {"name": "ma"},
              "mark": {"type": "line", "strokeWidth": 1.3},
              "encoding": {
                "x": {"field": "d", "type": "temporal"},
                "y": {"field": "p", "type": "quantitative"},
                "color": {"field": "k", "type": "nominal", "scale": {"domain": ["m", "b"], "range": ["#ff00ff", "#0000ff"]}, "legend": null}
              }
            }
          ]
        }
      ],
      "resolve": {"scale": {"y": "independent"}}
    },
    {
      "spacing": 1,
      "bounds": "flush",
      "resolve": {"scale": {"x": "independent", "y": "independent", "color": "independent"}},
      "vconcat": [
        {
          "width": 827,
          "height": 106,
          "title": {"text": "Volume", "anchor": "start", "frame": "group", "offset": -19, "dx": 8},
          "layer": [
            {
              "data": {"name": "vg"},
              "mark": {"type": "rule", "color": "#c8c8c8", "strokeWidth": 1},
              "encoding": {
                "x": {"datum": {"year": 2009, "month": 5, "date": 7}, "type": "temporal",
                      "scale": {"domain": [{"year": 2009, "month": 5, "date": 7}, {"year": 2025, "month": 4, "date": 9}]},
                      "axis": {"values": [{"year":2010},{"year":2011},{"year":2012},{"year":2013},{"year":2014},{"year":2015},{"year":2016},{"year":2017},{"year":2018},{"year":2019},{"year":2020},{"year":2021},{"year":2022},{"year":2023},{"year":2024}],
                               "tickCount": 40, "labels": false, "ticks": false, "domain": false, "grid": true, "gridColor": "#c8c8c8", "gridWidth": 1, "title": null}},
                "x2": {"datum": {"year": 2024, "month": 5, "date": 21}},
                "y": {"field": "v", "type": "quantitative", "scale": {"domain": [0, 30]},
                      "axis": {"orient": "left", "labels": false, "ticks": false, "grid": false, "domainColor": "black", "domainWidth": 2, "title": null}}
              }
            },
            {
              "data": {"name": "px"},
              "mark": {"type": "bar", "width": 1.6},
              "encoding": {
                "x": {"field": "d", "type": "temporal"},
                "y": {"field": "v", "type": "quantitative", "scale": {"domain": [0, 30]},
                      "axis": {"orient": "right", "offset": -46, "values": [7.5, 15, 22.5], "tickCount": 10, "labelExpr": "format(datum.value, '.1f') + ' M'",
                               "labelPadding": 5, "ticks": false, "tickSize": 0, "grid": false, "labelBaseline": "middle",
                               "labelOverlap": false, "labelFlush": false, "domainColor": "black", "domainWidth": 2, "title": null}},
                "color": {"field": "s", "type": "nominal", "scale": {"domain": ["u", "d", "n"], "range": ["#44b044", "#ff0000", "#a6a6a6"]}, "legend": null}
              }
            }
          ],
          "resolve": {"scale": {"y": "independent"}}
        },
        {
          "width": 827,
          "height": 17,
          "data": {"name": "yrs"},
          "mark": {"type": "rule", "color": "black", "strokeWidth": 1, "clip": true},
          "encoding": {
            "x": {"field": "s", "type": "temporal", "scale": {"domain": [{"year": 2009, "month": 5, "date": 7}, {"year": 2025, "month": 4, "date": 9}]}, "axis": null},
            "y": {"datum": 0, "type": "quantitative", "scale": {"domain": [0, 1]},
                  "axis": {"orient": "right", "offset": -46, "labels": false, "ticks": false, "grid": false, "domainColor": "black", "domainWidth": 2, "title": null}},
            "y2": {"datum": 1}
          }
        },
        {
          "width": 827,
          "height": 15,
          "data": {"name": "yrs"},
          "layer": [
            {
              "mark": {"type": "rule", "color": "black", "strokeWidth": 1, "clip": true},
              "encoding": {
                "x": {"field": "s", "type": "temporal", "scale": {"domain": [{"year": 2009, "month": 5, "date": 7}, {"year": 2025, "month": 4, "date": 9}]}, "axis": null},
                "y": {"datum": 0, "type": "quantitative", "scale": {"domain": [0, 1]},
                      "axis": {"orient": "right", "offset": -46, "labels": false, "ticks": false, "grid": false, "domainColor": "black", "domainWidth": 2, "title": null}},
                "y2": {"datum": 1}
              }
            },
            {
              "mark": {"type": "text", "fontSize": 13, "color": "black", "align": "center", "baseline": "middle", "dx": -2},
              "encoding": {
                "x": {"field": "m", "type": "temporal"},
                "y": {"datum": 0.5, "type": "quantitative"},
                "text": {"field": "y"}
              }
            }
          ]
        }
      ]
    }
  ]
}
